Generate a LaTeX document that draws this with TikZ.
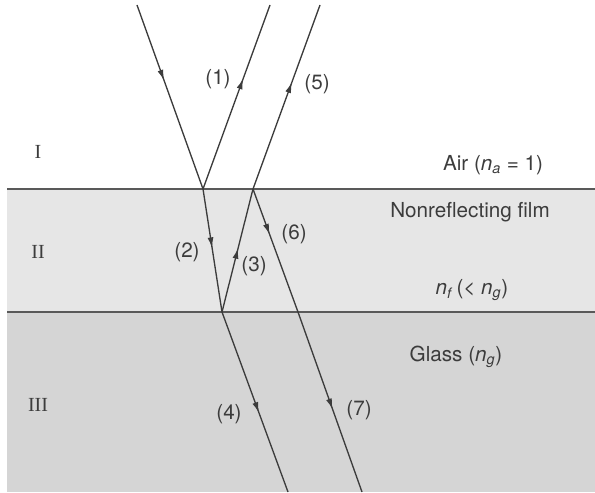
\documentclass[tikz,border=0pt]{standalone}
\usepackage{fontspec}
\setmainfont{TeX Gyre Heros}
\newfontfamily\romanfont{Liberation Serif}
\usetikzlibrary{arrows.meta,decorations.markings}
\definecolor{Ink}{HTML}{3C3C3C}
\definecolor{FilmGray}{HTML}{E6E6E6}
\definecolor{GlassGray}{HTML}{D5D5D5}

\begin{document}
\begin{tikzpicture}[x=0.75pt, y=-0.75pt,
      ray/.style={draw=Ink, color=Ink, line width=1pt},
      tip at/.style={postaction={decorate},
        decoration={markings, mark=at position #1 with {\arrow{Latex[length=8pt,width=4.5pt]}}}},
      edge/.style={draw=Ink!85, line width=1pt},
      lbl/.style={text=Ink, font=\fontsize{15.5}{18}\selectfont, inner sep=0pt},
      zone/.style={text=Ink, font=\romanfont\fontsize{15}{18}\selectfont, inner sep=0pt}
    ]
    \useasboundingbox (0,0) rectangle (595,492);

    % layers
    \fill[FilmGray] (7,189) rectangle (595,312);
    \fill[GlassGray] (7,312) rectangle (595,492);
    \draw[edge] (7,189) -- (595,189);
    \draw[edge] (7,312) -- (595,312);

    % ray points
    \coordinate (src) at (137,5);
    \coordinate (p) at (203,189);
    \coordinate (q) at (253,189);
    \coordinate (r) at (222,312);
    \coordinate (s) at (298,312);
    \coordinate (out1) at (270,5);
    \coordinate (out5) at (320,5);
    \coordinate (end4) at (288,492);
    \coordinate (end7) at (362,492);

    % rays
    \draw[ray, tip at=0.41] (src) -- (p);
    \draw[ray, tip at=0.60] (p) -- (out1);
    \draw[ray, tip at=0.48] (p) -- (r);
    \draw[ray, tip at=0.52] (r) -- (q);
    \draw[ray, tip at=0.58] (q) -- (out5);
    \draw[ray, tip at=0.37] (q) -- (s);
    \draw[ray, tip at=0.56] (r) -- (end4);
    \draw[ray, tip at=0.54] (s) -- (end7);

    % ray labels
    \node[lbl] (l1) at (218,79) {(1)};
    \node[lbl] (l2) at (187,252) {(2)};
    \node[lbl] (l3) at (254,266) {(3)};
    \node[lbl] (l4) at (229,414) {(4)};
    \node[lbl] (l5) at (317,84) {(5)};
    \node[lbl] (l6) at (294,234) {(6)};
    \node[lbl] (l7) at (359,410) {(7)};

    % media
    \node[zone] (z1) at (38,152) {I};
    \node[zone] (z2) at (38,252) {II};
    \node[zone] (z3) at (38,405) {III};
    \node[lbl] (air) at (493,165) {Air (\textit{n}\textsubscript{\textit{a}} = 1)};
    \node[lbl] (film) at (470,212) {Nonreflecting film};
    \node[lbl] (nf) at (472,290) {\textit{n}\textsubscript{\textit{f}}\,(< \textit{n}\textsubscript{\textit{g}})};
    \node[lbl] (glass) at (456,357) {Glass (\textit{n}\textsubscript{\textit{g}})};
  \end{tikzpicture}
\end{document}
